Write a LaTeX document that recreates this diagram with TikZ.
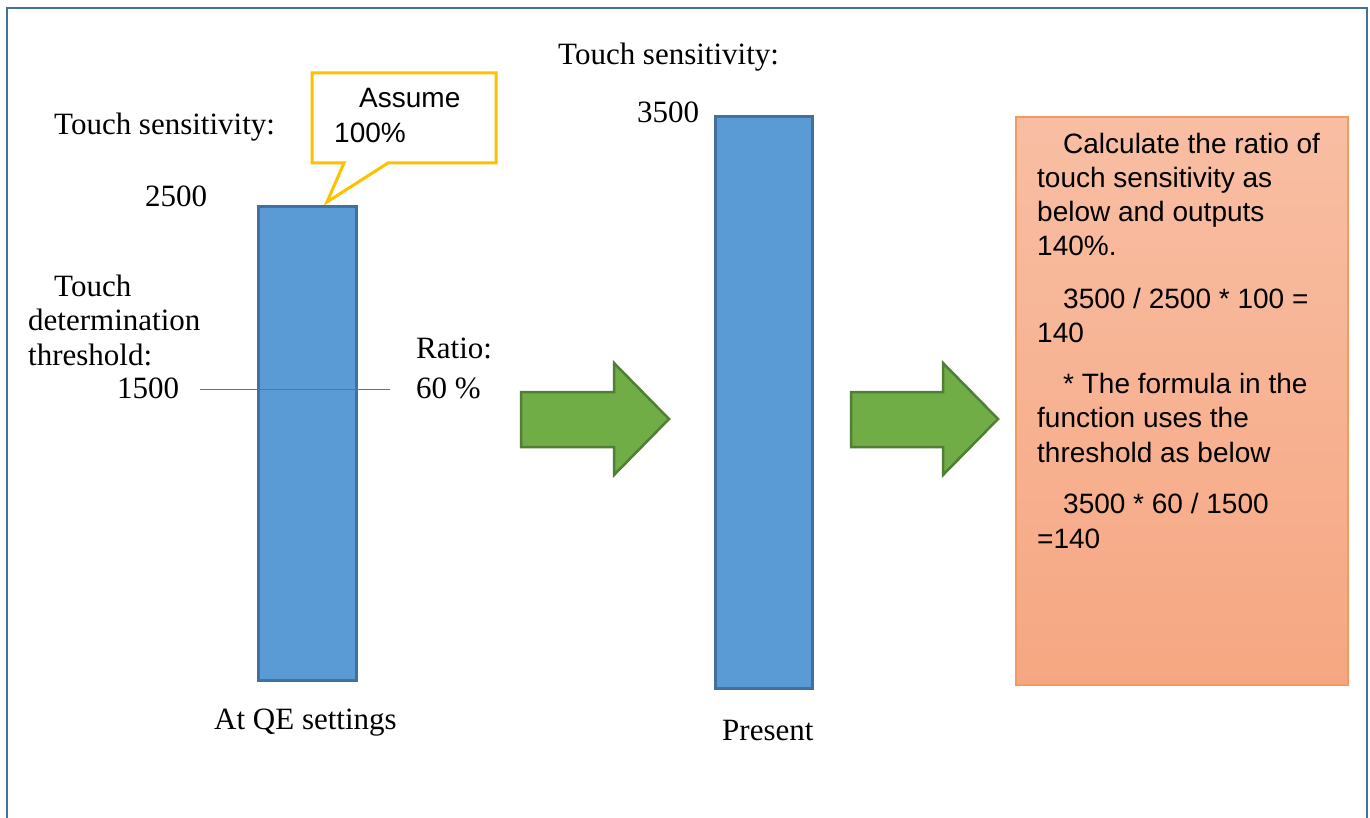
\documentclass[tikz,border=0pt]{standalone}
\usepackage{fontspec}
\setmainfont{Liberation Serif}
\newfontfamily\sansf{Liberation Sans}
\definecolor{barfill}{HTML}{5B9BD5}
\definecolor{barline}{HTML}{41719C}
\definecolor{arrfill}{HTML}{70AD47}
\definecolor{arrline}{HTML}{507E32}
\definecolor{callline}{HTML}{FFC000}
\definecolor{thrline}{HTML}{12A45E}
\definecolor{boxtop}{HTML}{F8BEA3}
\definecolor{boxbot}{HTML}{F6A782}
\definecolor{boxline}{HTML}{F39A60}
\definecolor{frameline}{HTML}{41719C}
\begin{document}
\begin{tikzpicture}[x=1pt,y=-1pt,
  lab/.style={anchor=base west,inner sep=0pt,font=\fontsize{31}{35}\selectfont},
  slab/.style={anchor=base west,inner sep=0pt,font=\sansf\fontsize{28}{33}\selectfont},
  clab/.style={anchor=base west,inner sep=0pt,font=\sansf\fontsize{28}{33}\selectfont},
  bar/.style={fill=barfill,draw=barline,line width=3pt},
  bigarrow/.style={fill=arrfill,draw=arrline,line width=2.5pt,line join=miter},
  callout/.style={fill=white,draw=callline,line width=3pt,line join=miter},
  thr/.style={draw=thrline,line width=1pt},
  frame/.style={draw=frameline,line width=2pt}]
\useasboundingbox (0,0) rectangle (1370,818);
\fill[white] (0,0) rectangle (1370,818);
\draw[frame] (7,818) -- (7,8) -- (1367,8) -- (1367,818);

% callout
\draw[callout] (312,73) -- (496,73) -- (496,163) -- (388,163) -- (327,202) -- (344,163) -- (312,163) -- cycle;
\node[clab] (assume) at (359,108) {Assume};
\node[clab] (hundred) at (334,143) {100\%};

% bars
\draw[bar] (258,207) rectangle (356,680);
\draw[bar] (715,117) rectangle (812,688);
\draw[thr] (200,389) -- (390,389);

% arrows
\draw[bigarrow] (521,392) -- (614,392) -- (614,363) -- (669,419) -- (614,475) -- (614,447) -- (521,447) -- cycle;
\draw[bigarrow] (851,392) -- (943,392) -- (943,363) -- (998,419) -- (943,475) -- (943,447) -- (851,447) -- cycle;

% orange box
\shade[top color=boxtop,bottom color=boxbot] (1016,117) rectangle (1348,685);
\draw[boxline,line width=1.5pt] (1016,117) rectangle (1348,685);

% serif labels
\node[lab] (ts1) at (54,135) {Touch sensitivity:};
\node[lab] (v2500) at (145,207) {2500};
\node[lab] (tt1) at (54,296) {Touch};
\node[lab] (tt2) at (28,330) {determination};
\node[lab] (tt3) at (28,365) {threshold:};
\node[lab] (v1500) at (117,398) {1500};
\node[lab] (ratio) at (416,358) {Ratio:};
\node[lab] (r60) at (416,398) {60 \%};
\node[lab] (ts2) at (558,65) {Touch sensitivity:};
\node[lab] (v3500) at (637,123) {3500};
\node[lab] (qe) at (214,729) {At QE settings};
\node[lab] (present) at (722,740) {Present};

% box text
\node[slab] (b1) at (1063,154) {Calculate the ratio of};
\node[slab] (b2) at (1037,188) {touch sensitivity as};
\node[slab] (b3) at (1037,222) {below and outputs};
\node[slab] (b4) at (1037,256) {140\%.};
\node[slab] (b5) at (1063,308) {3500 / 2500 * 100 =};
\node[slab] (b6) at (1037,342) {140};
\node[slab] (b7) at (1063,393) {* The formula in the};
\node[slab] (b8) at (1037,427) {function uses the};
\node[slab] (b9) at (1037,462) {threshold as below};
\node[slab] (b10) at (1063,513) {3500 * 60 / 1500};
\node[slab] (b11) at (1037,548) {=140};
\end{tikzpicture}
\end{document}
